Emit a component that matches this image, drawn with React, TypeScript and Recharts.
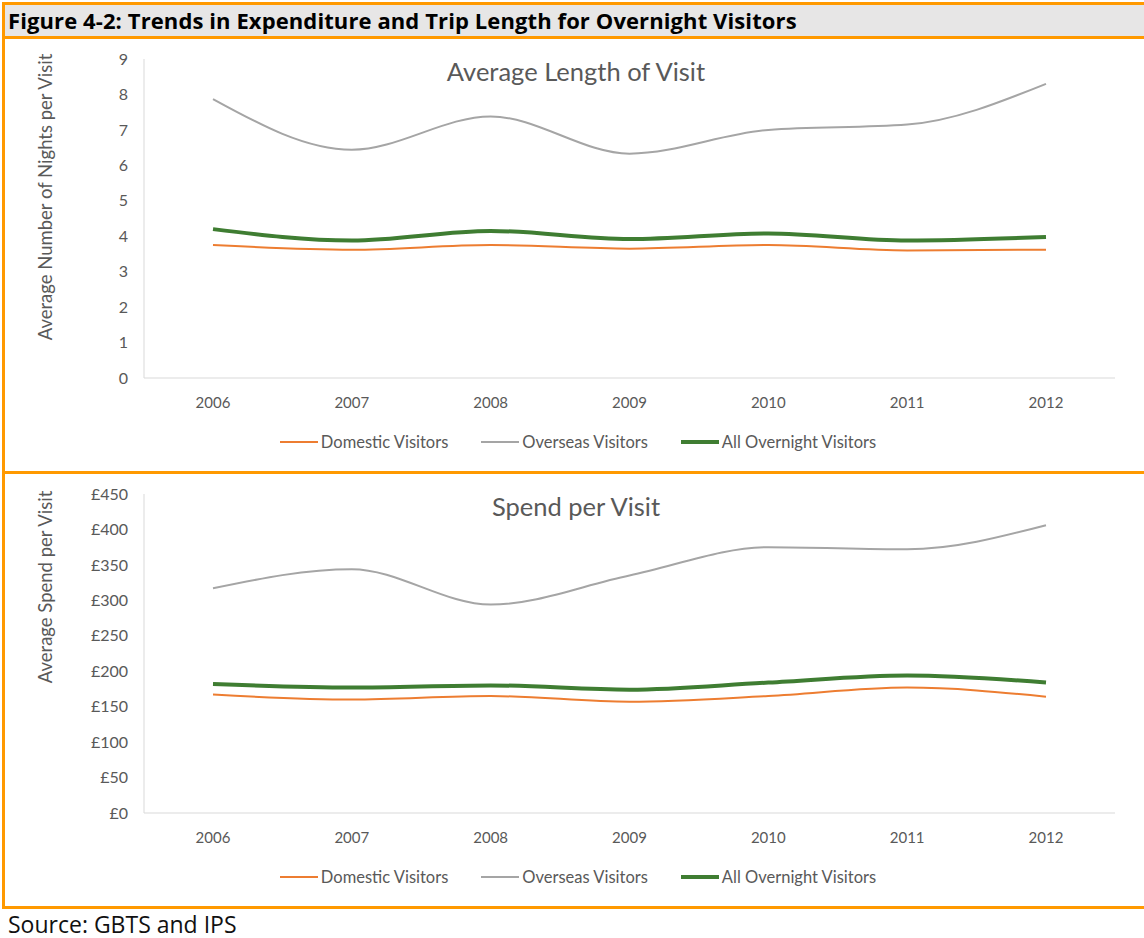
import { LineChart, Line, XAxis, YAxis } from "recharts";

const years = ["2006", "2007", "2008", "2009", "2010", "2011", "2012"];

const nightsDomestic = [3.75, 3.62, 3.75, 3.65, 3.75, 3.6, 3.62];
const nightsOverseas = [7.87, 6.44, 7.38, 6.33, 7.0, 7.15, 8.3];
const nightsAll = [4.2, 3.88, 4.15, 3.92, 4.08, 3.88, 3.98];

const spendDomestic = [167, 160, 165, 157, 165, 177, 164];
const spendOverseas = [317, 344, 294, 335, 375, 372, 406];
const spendAll = [182, 177, 180, 174, 184, 194, 184];

const nightTicks = [0, 1, 2, 3, 4, 5, 6, 7, 8, 9];
const spendTicks = [0, 50, 100, 150, 200, 250, 300, 350, 400, 450];

const ORANGE = "#ff9900";
const TEXT = "#595959";
const FONT = "Lato, 'Open Sans', sans-serif";
const WIDE = "'Open Sans', sans-serif";

const series = [
  { key: "domestic", name: "Domestic Visitors", color: "#ed7d31", width: 2 },
  { key: "overseas", name: "Overseas Visitors", color: "#a5a5a5", width: 2 },
  { key: "all", name: "All Overnight Visitors", color: "#3f7d32", width: 4 },
];

function rows(d: number[], o: number[], a: number[]) {
  return years.map((y, i) => ({ year: y, domestic: d[i], overseas: o[i], all: a[i] }));
}

function Legend() {
  return (
    <div
      style={{
        position: "absolute",
        left: 8,
        width: 1140,
        bottom: 19,
        display: "flex",
        justifyContent: "center",
        gap: 33,
        fontSize: 16.5,
        color: TEXT,
      }}
    >
      {series.map((s) => (
        <div key={s.key} style={{ display: "flex", alignItems: "center" }}>
          <div style={{ width: 38, height: s.width, background: s.color, marginRight: 3 }} />
          {s.name}
        </div>
      ))}
    </div>
  );
}

function Panel(props: {
  top: number;
  height: number;
  title: string;
  yTitle: string;
  yTitleCenter: number;
  data: any[];
  ticks: number[];
  fmt: (v: number) => string;
}) {
  return (
    <div style={{ position: "absolute", left: 0, top: props.top, width: 1140, height: props.height }}>
      <div
        style={{
          position: "absolute",
          left: 0,
          width: 1152,
          top: 19,
          textAlign: "center",
          fontSize: 25.5,
          color: TEXT,
        }}
      >
        {props.title}
      </div>
      <div
        style={{
          position: "absolute",
          left: 45,
          top: props.yTitleCenter,
          transform: "translate(-50%, -50%) rotate(-90deg)",
          whiteSpace: "nowrap",
          fontSize: 18.5,
          color: TEXT,
        }}
      >
        {props.yTitle}
      </div>
      <LineChart
        width={1140}
        height={props.height}
        data={props.data}
        margin={{ top: 22, right: 25, left: 0, bottom: 0 }}
        style={{ position: "absolute", left: 0, top: 0 }}
      >
        <XAxis
          dataKey="year"
          height={props.height - 22 - 319}
          padding={{ left: 69, right: 69 }}
          tickLine={false}
          axisLine={{ stroke: "#d9d9d9" }}
          tickSize={17}
          tick={{ fill: TEXT, fontSize: 15, fontFamily: FONT }}
        />
        <YAxis
          width={144}
          domain={[props.ticks[0], props.ticks[props.ticks.length - 1]]}
          ticks={props.ticks}
          interval={0}
          tickLine={false}
          axisLine={{ stroke: "#d9d9d9" }}
          tickSize={14}
          tickFormatter={props.fmt}
          tick={{ fill: TEXT, fontSize: 16, fontFamily: FONT }}
        />
        {series.map((s) => (
          <Line
            key={s.key}
            type="monotone"
            dataKey={s.key}
            name={s.name}
            stroke={s.color}
            strokeWidth={s.width}
            dot={false}
            activeDot={false}
            isAnimationActive={false}
          />
        ))}
      </LineChart>
      <Legend />
    </div>
  );
}

export default function App() {
  return (
    <div
      style={{
        position: "absolute",
        left: 0,
        top: 0,
        width: 1144,
        height: 938,
        background: "#fff",
        fontFamily: FONT,
      }}
    >
      <div
        style={{
          position: "absolute",
          left: 2,
          top: 2,
          width: 1142,
          height: 907,
          border: `3px solid ${ORANGE}`,
          borderRight: "none",
          boxSizing: "border-box",
        }}
      />
      <div
        style={{
          position: "absolute",
          left: 5,
          top: 5,
          width: 1139,
          height: 31,
          background: "#e7e6e6",
          borderBottom: `3px solid ${ORANGE}`,
          fontFamily: WIDE,
          fontWeight: 700,
          fontSize: 22,
          lineHeight: "31px",
          paddingLeft: 3,
          boxSizing: "content-box",
          color: "#000",
          whiteSpace: "nowrap",
          overflow: "hidden",
          letterSpacing: 0.1,
        }}
      >
        Figure 4-2: Trends in Expenditure and Trip Length for Overnight Visitors
      </div>
      <Panel
        top={37}
        height={434}
        title="Average Length of Visit"
        yTitle="Average Number of Nights per Visit"
        yTitleCenter={160}
        data={rows(nightsDomestic, nightsOverseas, nightsAll)}
        ticks={nightTicks}
        fmt={(v) => String(v)}
      />
      <div style={{ position: "absolute", left: 2, top: 471, width: 1142, height: 3, background: ORANGE }} />
      <Panel
        top={472}
        height={434}
        title="Spend per Visit"
        yTitle="Average Spend per Visit"
        yTitleCenter={115}
        data={rows(spendDomestic, spendOverseas, spendAll)}
        ticks={spendTicks}
        fmt={(v) => "£" + v}
      />
      <div style={{ position: "absolute", left: 8, top: 908, fontFamily: WIDE, fontSize: 23, color: "#111" }}>
        Source: GBTS and IPS
      </div>
    </div>
  );
}
